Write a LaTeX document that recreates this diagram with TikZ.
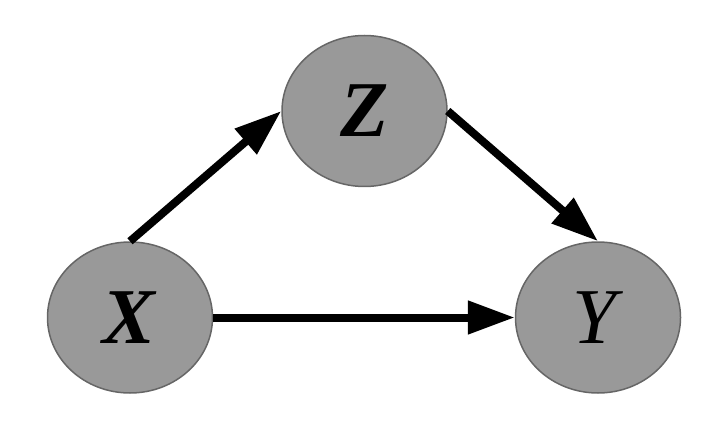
\documentclass[tikz,border=0pt]{standalone}
\usepackage{fontspec}
\setmainfont{Liberation Serif}
\usetikzlibrary{arrows.meta,shapes.geometric}
\definecolor{nodefill}{HTML}{999999}
\definecolor{nodeline}{HTML}{666666}
\begin{document}
\begin{tikzpicture}[
  var/.style={ellipse, draw=nodeline, line width=0.03cm, fill=nodefill,
    minimum width=3.30cm, minimum height=3.02cm, inner sep=0pt,
    font=\fontsize{45}{48}\selectfont},
  edge/.style={line width=0.16cm, -{Triangle[length=0.94cm,width=0.64cm]}}]
  \useasboundingbox (0,0) rectangle (14.56,8.60);
  \node[var] (x) at (2.60,2.25) {\textbf{\textit{X}}};
  \node[var] (z) at (7.29,6.38) {\textbf{\textit{Z}}};
  \node[var] (y) at (11.96,2.25) {\textit{Y}};
  \draw[edge] (x.north) -- (z.west);
  \draw[edge] (z.east) -- (y.north);
  \draw[edge] (x.east) -- (y.west);
\end{tikzpicture}
\end{document}
